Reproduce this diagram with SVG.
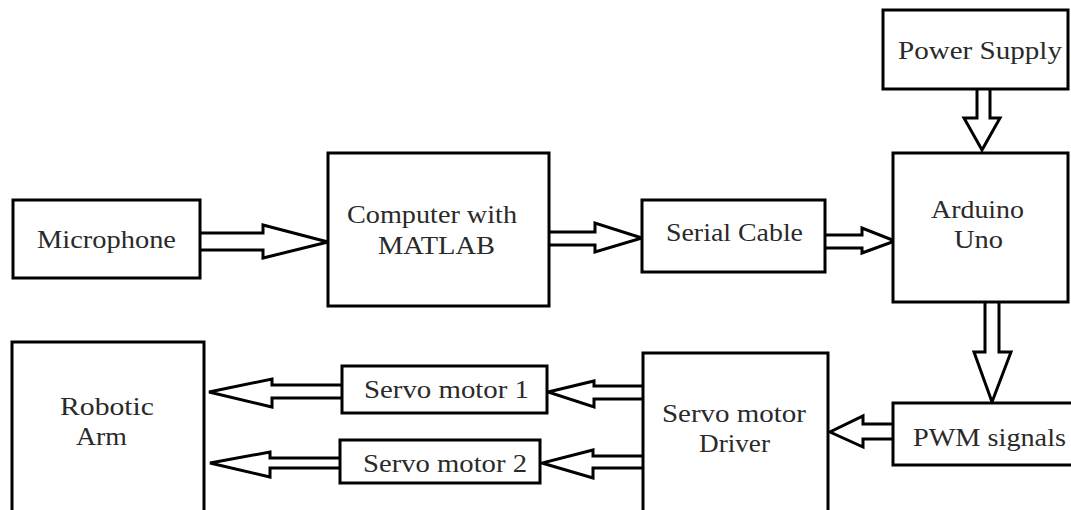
<svg xmlns="http://www.w3.org/2000/svg" width="1071" height="510" viewBox="0 0 1071 510">
<style>
.box{fill:#fff;stroke:#000;stroke-width:3}
.arr{fill:#fff;stroke:#000;stroke-width:3;stroke-linejoin:miter}
text{font-family:'Liberation Serif','Times New Roman','DejaVu Serif',serif;font-size:26px;fill:#2a2a2a}
</style>
<rect width="1071" height="510" fill="#fff"/>
<g id="connectors">
<path class="arr" d="M200,233 L263,233 L263,225 L328,242 L263,258 L263,250 L200,250"/>
<path class="arr" d="M549,232 L595,232 L595,223 L642,238 L595,252 L595,245 L549,245"/>
<path class="arr" d="M825,235 L862,235 L862,228 L895,241 L862,253 L862,248 L825,248"/>
<path class="arr" d="M977,89 L977,118 L964,118 L982,150 L1000,118 L990,118 L990,89"/>
<path class="arr" d="M985,302 L985,352 L974,352 L992,402 L1011,352 L999,352 L999,302"/>
<path class="arr" d="M893,424 L863,424 L863,416 L830,432 L863,447 L863,439 L893,439"/>
<path class="arr" d="M643,386 L594,386 L594,381 L548,392 L594,407 L594,399 L643,399"/>
<path class="arr" d="M643,456 L593,456 L593,450 L542,463 L593,478 L593,468 L643,468"/>
<path class="arr" d="M342,385 L272,385 L272,379 L209,392 L272,407 L272,398 L342,398"/>
<path class="arr" d="M340,458 L270,458 L270,452 L210,463 L270,477 L270,468 L340,468"/>
</g>
<g id="microphone">
<rect class="box" x="13" y="200" width="187" height="78"/>
<text font-family="Liberation Serif, serif" x="37" y="248" textLength="139" lengthAdjust="spacingAndGlyphs">Microphone</text>
</g>
<g id="computer">
<rect class="box" x="328" y="153" width="221" height="153"/>
<text font-family="Liberation Serif, serif" x="347" y="223" textLength="170" lengthAdjust="spacingAndGlyphs">Computer with</text>
<text font-family="Liberation Serif, serif" x="378" y="254" textLength="117" lengthAdjust="spacingAndGlyphs">MATLAB</text>
</g>
<g id="serial-cable">
<rect class="box" x="642" y="200" width="183" height="72"/>
<text font-family="Liberation Serif, serif" x="666" y="241" textLength="137" lengthAdjust="spacingAndGlyphs">Serial Cable</text>
</g>
<g id="power-supply">
<rect class="box" x="883" y="10" width="185" height="79"/>
<text font-family="Liberation Serif, serif" x="898" y="59" textLength="164" lengthAdjust="spacingAndGlyphs">Power Supply</text>
</g>
<g id="arduino">
<rect class="box" x="893" y="153" width="175" height="149"/>
<text font-family="Liberation Serif, serif" x="931" y="218" textLength="93" lengthAdjust="spacingAndGlyphs">Arduino</text>
<text font-family="Liberation Serif, serif" x="954" y="248" textLength="49" lengthAdjust="spacingAndGlyphs">Uno</text>
</g>
<g id="pwm-signals">
<rect class="box" x="893" y="403" width="185" height="62"/>
<text font-family="Liberation Serif, serif" x="913" y="446" textLength="153" lengthAdjust="spacingAndGlyphs">PWM signals</text>
</g>
<g id="servo-driver">
<rect class="box" x="643" y="353" width="185" height="165"/>
<text font-family="Liberation Serif, serif" x="662" y="422" textLength="144" lengthAdjust="spacingAndGlyphs">Servo motor</text>
<text font-family="Liberation Serif, serif" x="699" y="452" textLength="71" lengthAdjust="spacingAndGlyphs">Driver</text>
</g>
<g id="servo-motor-1">
<rect class="box" x="342" y="366" width="205" height="47"/>
<text font-family="Liberation Serif, serif" x="364" y="398" textLength="165" lengthAdjust="spacingAndGlyphs">Servo motor 1</text>
</g>
<g id="servo-motor-2">
<rect class="box" x="340" y="440" width="200" height="43"/>
<text font-family="Liberation Serif, serif" x="363" y="472" textLength="164" lengthAdjust="spacingAndGlyphs">Servo motor 2</text>
</g>
<g id="robotic-arm">
<rect class="box" x="12" y="342" width="192" height="176"/>
<text font-family="Liberation Serif, serif" x="60" y="415" textLength="94" lengthAdjust="spacingAndGlyphs">Robotic</text>
<text font-family="Liberation Serif, serif" x="76" y="445" textLength="51" lengthAdjust="spacingAndGlyphs">Arm</text>
</g>
</svg>
